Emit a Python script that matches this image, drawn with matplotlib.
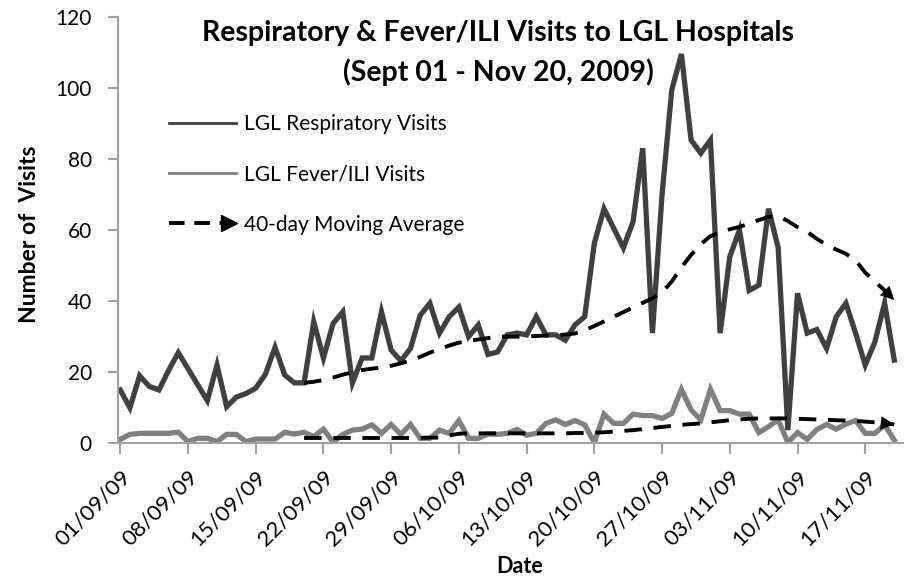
import matplotlib
matplotlib.use("Agg")
import matplotlib.pyplot as plt
from matplotlib.lines import Line2D
from matplotlib.legend_handler import HandlerBase

plt.rcParams['font.family'] = ['Lato', 'DejaVu Sans']

# daily counts, 01/09/09 .. 20/11/09 (day index 0..80)
resp_visits = [15, 10, 19, 16, 15, 20.5, 25.5, 21, 16.5, 12, 22, 10.3, 13, 14, 15.5, 19.4, 27, 19.2, 17, 17,
               34.2, 24, 33.7, 37, 17, 24, 24, 37, 26.2, 23.2, 26.7, 36, 39.4, 31, 35.6, 38.3, 30, 33.3, 25, 25.7,
               30.5, 31, 30.5, 35.6, 30.5, 30.5, 29, 33.3, 35.6, 56.3, 66, 60.5, 55, 62.3, 83, 31, 70, 99.4, 109.5, 85.3,
               81.6, 85.3, 31, 52.5, 60, 43, 44.5, 66, 55, 3.7, 42.2, 31, 32, 26.7, 35.6, 39.4, 31, 22, 28.6, 39.4,
               23.4]
fever_visits = [1.1, 2.5, 2.8, 2.8, 2.8, 2.8, 3.1, 0.5, 1.4, 1.4, 0.5, 2.5, 2.5, 0.5, 1.2, 1.2, 1.2, 3.1, 2.6, 3.1,
                1.9, 4, 0.3, 2.5, 3.7, 4, 5.2, 2.8, 5.3, 2.5, 5.3, 1.4, 1.4, 3.7, 2.8, 6.4, 1.4, 1.4, 2.6, 2.5,
                2.8, 3.9, 2.3, 2.8, 5.6, 6.6, 5.3, 6.4, 5.2, 0.2, 8.2, 5.6, 5.6, 8.2, 7.8, 7.8, 7, 8.4, 15.2, 9.4,
                6.6, 15.2, 9.2, 9.2, 8.2, 8.2, 3, 4.7, 6.6, 0.2, 3, 1.1, 3.9, 5.3, 4, 5.4, 6.4, 2.8, 2.8, 5.2,
                0.9]
days = list(range(len(resp_visits)))

# 40-day moving averages, drawn from day 19 on
ma_start = 19
resp_ma = [17, 17.3, 17.8, 18.5, 19.3, 20, 20.6, 21, 21.3, 21.8, 22.5, 23.3, 24.3, 25.5, 26.5, 27.5, 28.3, 28.8,
           29.2, 29.6, 30, 30, 30, 30.1, 30.2, 30.3, 30.4, 30.6, 30.9, 31.8, 33, 34.3, 35.6, 36.9, 38.2, 39.5,
           40.8, 42.5, 45.5, 49.5, 53, 56, 58.3, 59.3, 60.2, 60.9, 61.8, 62.8, 63.7, 64, 62.5, 60.8, 59.5, 57.5,
           55.8, 54.5, 53.3, 51.5, 48, 45.5, 43, 40.3]
fever_ma = [1.5, 1.5, 1.5, 1.5, 1.5, 1.5, 1.5, 1.5, 1.5, 1.5, 1.5, 1.5, 1.5, 1.6, 1.6, 2.2, 2.7, 2.8,
            2.8, 2.8, 2.8, 2.8, 2.8, 2.8, 2.8, 2.8, 2.8, 2.8, 2.9, 2.9, 3.0, 3.1, 3.3, 3.5, 3.7, 4.0,
            4.3, 4.6, 4.9, 5.2, 5.4, 5.6, 5.9, 6.2, 6.5, 6.7, 6.9, 7.0, 7.0, 7.0, 7.0, 6.9, 6.8, 6.7,
            6.6, 6.5, 6.4, 6.3, 6.1, 5.9, 5.6, 5.3]
ma_days = days[ma_start:]

tick_days = [0, 7, 14, 21, 28, 35, 42, 49, 56, 63, 70, 77]
tick_labels = ['01/09/09', '08/09/09', '15/09/09', '22/09/09', '29/09/09', '06/10/09',
               '13/10/09', '20/10/09', '27/10/09', '03/11/09', '10/11/09', '17/11/09']

dash = (4.5, 3)


class ArrowHandler(HandlerBase):
    # dashed line with a triangle head at the right end
    def create_artists(self, legend, orig_handle, xdescent, ydescent, width, height, fontsize, trans):
        y = height / 2 - ydescent
        ln = Line2D([-xdescent, width - xdescent - 8], [y, y], color='black', lw=2.8, dashes=(4, 2.5))
        head = Line2D([width - xdescent - 5], [y], marker='>', color='black', markersize=12, lw=0)
        ln.set_transform(trans)
        head.set_transform(trans)
        return [ln, head]


fig = plt.figure(figsize=(9.07, 5.76), dpi=100)
ax = fig.add_axes([118.3 / 907, 1 - 443.3 / 576, (903 - 118.3) / 907, (443.3 - 16.7) / 576])

ax.plot(days, resp_visits, color='#404040', lw=3.8, solid_joinstyle='miter')
ax.plot(days, fever_visits, color='#808080', lw=3.8, solid_joinstyle='miter')
ax.plot(ma_days, resp_ma, color='black', lw=2.8, dashes=dash)
ax.plot(ma_days, fever_ma, color='black', lw=2.8, dashes=dash)
for ma in (resp_ma, fever_ma):
    ax.annotate('', xy=(ma_days[-1], ma[-1]), xytext=(ma_days[-2], ma[-2]),
                arrowprops=dict(arrowstyle='-|>', color='black', lw=0.1, mutation_scale=24,
                                shrinkA=0, shrinkB=0))

ax.set_xlim(-0.2, 80.9)
ax.set_ylim(0, 120)
ax.set_yticks(range(0, 121, 20))
ax.set_xticks(tick_days)
ax.set_xticklabels(tick_labels, rotation=45, ha='right', rotation_mode='anchor')

for s in ('top', 'right'):
    ax.spines[s].set_visible(False)
for s in ('left', 'bottom'):
    ax.spines[s].set_color('#a0a0a0')
    ax.spines[s].set_linewidth(1.5)
ax.tick_params(axis='y', colors='#a0a0a0', labelcolor='black', labelsize=15, length=7, width=1.5, pad=12)
ax.tick_params(axis='x', colors='#a0a0a0', labelcolor='black', labelsize=16, length=8, width=1.5, pad=9)

ax.set_ylabel('Number of  Visits', fontsize=16.5, fontweight='bold')
ax.yaxis.set_label_coords(-0.10, 0.49)
ax.set_xlabel('Date', fontsize=15.5, fontweight='bold')
ax.xaxis.set_label_coords(0.511, -0.265)

fig.text(0.549, 0.943, 'Respiratory & Fever/ILI Visits to LGL Hospitals',
         ha='center', va='center', fontsize=20.5, fontweight='bold')
fig.text(0.549, 0.875, '(Sept 01 - Nov 20, 2009)',
         ha='center', va='center', fontsize=20.5, fontweight='bold')

key_resp = Line2D([], [], color='#404040', lw=2)
key_fever = Line2D([], [], color='#808080', lw=2)
key_ma = object()
ax.legend([key_resp, key_fever, key_ma],
          ['LGL Respiratory Visits', 'LGL Fever/ILI Visits', '40-day Moving Average'],
          handler_map={key_ma: ArrowHandler()},
          loc='upper left', bbox_to_anchor=(0.041, 0.815), frameon=False, fontsize=15,
          handlelength=3.2, handletextpad=0.4, labelspacing=1.45)

fig.savefig('out.png', dpi=100)
